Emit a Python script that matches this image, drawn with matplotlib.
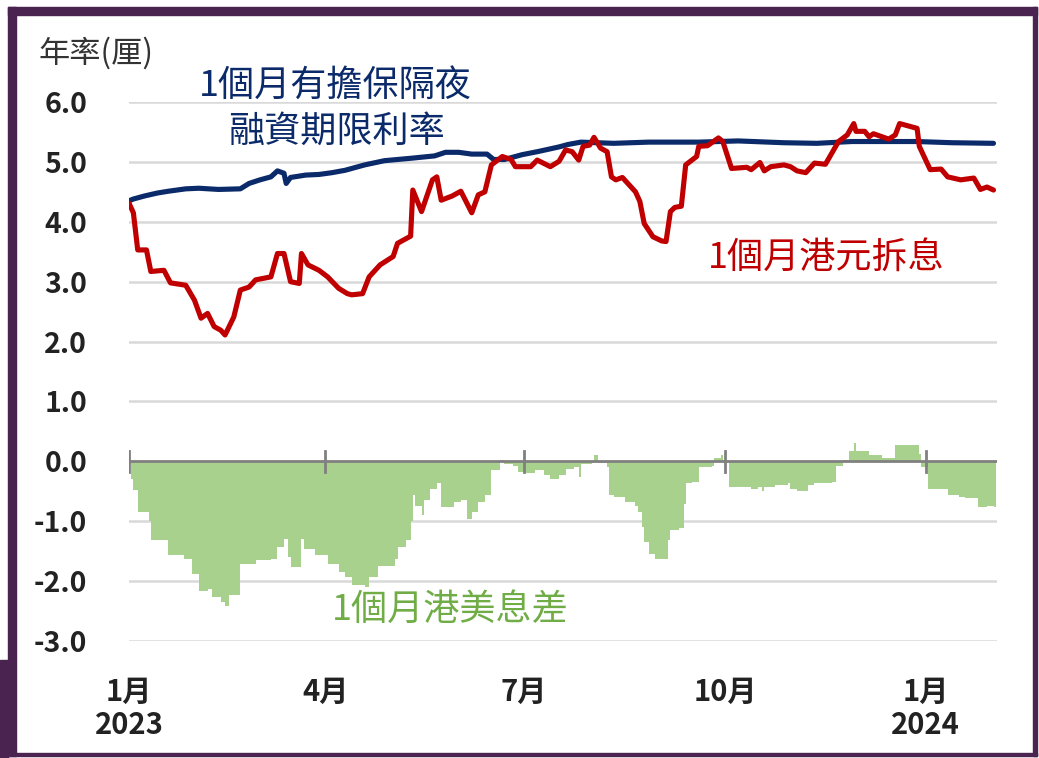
import matplotlib
matplotlib.use("Agg")
import matplotlib.pyplot as plt
from matplotlib.patches import Rectangle
import numpy as np
import pandas as pd

plt.rcParams['font.family'] = ['Noto Sans CJK TC', 'DejaVu Sans']

# 資料 (日數 = 自 2023-01-01 起)
hibor_days = [0, 2, 4, 8, 10, 16, 19, 26, 30, 33, 36, 39, 42, 44, 48, 51, 55, 58, 65, 68,
              71, 74, 78, 79, 82, 87, 91, 96, 100, 102, 107, 110, 115, 121, 123, 129, 130,
              134, 139, 141, 143, 148, 152, 157, 160, 163, 166, 171, 175, 177, 184, 187,
              193, 197, 200, 203, 206, 208, 211, 213, 216, 219, 221, 223, 226, 229, 232,
              234, 236, 240, 244, 246, 248, 250, 253, 255, 260, 261, 265, 270, 272, 276,
              283, 285, 289, 291, 294, 300, 303, 306, 310, 314, 319, 325, 329, 332, 333,
              337, 339, 341, 348, 351, 353, 361, 362, 367, 372, 375, 381, 387, 390, 393, 396]
hibor = [4.31, 4.15, 3.53, 3.53, 3.17, 3.19, 2.98, 2.94, 2.69, 2.39, 2.47, 2.25, 2.19, 2.11,
         2.41, 2.86, 2.91, 3.03, 3.08, 3.47, 3.47, 3.00, 2.97, 3.47, 3.28, 3.19, 3.08, 2.89,
         2.80, 2.78, 2.80, 3.08, 3.28, 3.42, 3.64, 3.76, 4.53, 4.17, 4.70, 4.75, 4.36, 4.43,
         4.51, 4.15, 4.45, 4.50, 4.95, 5.09, 5.04, 4.92, 4.92, 5.03, 4.92, 5.01, 5.20, 5.17,
         5.03, 5.26, 5.28, 5.41, 5.23, 5.17, 4.75, 4.70, 4.74, 4.62, 4.50, 4.34, 3.97, 3.75,
         3.68, 3.67, 4.17, 4.24, 4.26, 4.95, 5.09, 5.26, 5.27, 5.40, 5.34, 4.89, 4.91, 4.87,
         4.99, 4.85, 4.92, 4.95, 4.92, 4.85, 4.82, 4.98, 4.96, 5.34, 5.45, 5.64, 5.51, 5.51,
         5.42, 5.47, 5.38, 5.45, 5.64, 5.56, 5.26, 4.87, 4.88, 4.75, 4.70, 4.73, 4.54, 4.58,
         4.53]

sofr_days = [0, 2, 7, 13, 18, 26, 32, 41, 51, 55, 60, 65, 68, 71, 72, 74, 81, 87, 93, 99,
             108, 117, 129, 140, 145, 151, 157, 164, 167, 172, 180, 187, 197, 201, 207, 222,
             238, 261, 279, 300, 315, 331, 346, 361, 377, 396]
sofr = [4.35, 4.38, 4.43, 4.48, 4.51, 4.55, 4.56, 4.54, 4.55, 4.64, 4.70, 4.75, 4.85, 4.81,
        4.64, 4.74, 4.78, 4.79, 4.82, 4.86, 4.95, 5.02, 5.06, 5.10, 5.16, 5.16, 5.13, 5.13,
        5.04, 5.04, 5.12, 5.17, 5.25, 5.29, 5.33, 5.31, 5.33, 5.33, 5.35, 5.32, 5.31, 5.34,
        5.34, 5.34, 5.32, 5.31]

spread_days = [0, 1, 2, 4, 9, 10, 17, 18, 25, 29, 32, 36, 38, 42, 44, 46, 51, 58, 65, 68,
               71, 73, 74, 79, 80, 85, 91, 96, 99, 102, 108, 110, 114, 122, 123, 127, 129,
               130, 131, 134, 135, 138, 141, 143, 149, 152, 155, 157, 160, 163, 166, 170,
               172, 176, 178, 182, 186, 190, 193, 197, 200, 204, 206, 207, 212, 213, 215,
               219, 220, 222, 227, 232, 233, 235, 236, 238, 241, 246, 247, 248, 252, 254,
               255, 258, 261, 267, 268, 271, 272, 275, 283, 285, 288, 290, 291, 296, 302,
               303, 306, 310, 311, 314, 322, 324, 327, 330, 332, 333, 338, 339, 344, 345,
               350, 351, 360, 362, 363, 366, 372, 375, 380, 383, 387, 389, 393, 396, 397]
spread = [-0.04, -0.30, -0.48, -0.85, -0.99, -1.32, -1.32, -1.57, -1.63, -1.88, -2.16, -2.14,
          -2.27, -2.35, -2.41, -2.24, -1.71, -1.65, -1.63, -1.43, -1.29, -1.60, -1.77, -1.29,
          -1.46, -1.57, -1.71, -1.85, -1.93, -2.07, -2.10, -1.93, -1.74, -1.63, -1.43, -1.32,
          -0.99, -0.57, -0.74, -0.90, -0.65, -0.46, -0.36, -0.76, -0.68, -0.65, -0.96, -0.85,
          -0.68, -0.57, -0.15, 0.03, -0.05, -0.07, -0.18, -0.20, -0.15, -0.23, -0.29, -0.23,
          -0.12, -0.10, -0.26, -0.05, -0.03, 0.10, -0.03, -0.10, -0.57, -0.60, -0.68, -0.74,
          -0.85, -1.10, -1.35, -1.54, -1.63, -1.63, -1.32, -1.15, -1.12, -0.71, -0.37, -0.35,
          -0.10, -0.07, 0.05, 0.10, 0.03, -0.43, -0.43, -0.46, -0.43, -0.49, -0.43, -0.40,
          -0.37, -0.46, -0.49, -0.49, -0.40, -0.37, -0.34, -0.07, 0.03, 0.18, 0.30, 0.18,
          0.18, 0.10, 0.10, 0.06, 0.05, 0.27, 0.27, 0.13, -0.10, -0.46, -0.46, -0.57, -0.60,
          -0.62, -0.62, -0.76, -0.74, -0.76, -0.76]

tick_dates = ["2023-01-01", "2023-04-01", "2023-07-01", "2023-10-01", "2024-01-01"]
tick_labels = ["1月\n2023", "4月", "7月", "10月", "1月\n2024"]
y_ticks = [6, 5, 4, 3, 2, 1, 0, -1, -2, -3]

start = pd.Timestamp("2023-01-01")
to_date = lambda d: start + pd.to_timedelta(d, unit="D")

navy = "#0b2a6a"
red = "#c00000"
green_fill = "#a9d18e"
green_txt = "#70ad47"
frame = "#4b2350"

W, H = 1039, 758
fig = plt.figure(figsize=(W / 100, H / 100), dpi=100)
ax = fig.add_axes([129 / W, 1 - 641 / H, (997 - 129) / W, (641 - 102) / H])

# 息差 (面積)
ax.fill_between(to_date(spread_days), spread, 0, step="post", color=green_fill,
                linewidth=0, zorder=2)
# 零線 + 月份刻度
ax.axhline(0, color="#808080", lw=2, zorder=3)
for d in tick_dates:
    ax.plot([pd.Timestamp(d)] * 2, [-0.17, 0.18], color="#808080", lw=2, zorder=3)

ax.plot(to_date(sofr_days), sofr, color=navy, lw=3.7, zorder=4, solid_joinstyle="round",
        solid_capstyle="round")
ax.plot(to_date(hibor_days), hibor, color=red, lw=3.7, zorder=5, solid_joinstyle="round",
        solid_capstyle="round")

ax.set_ylim(-3, 6)
ax.set_xlim(start, to_date(397.6))
ax.set_yticks(y_ticks)
ax.set_yticklabels([f"{v:.1f}" for v in y_ticks], fontsize=20.5, fontweight="bold",
                   color="#222222")
ax.tick_params(axis="y", length=0, pad=30)
ax.set_xticks([])
for sp in ax.spines.values():
    sp.set_visible(False)
for v in y_ticks:
    if v != 0:
        ax.axhline(v, color="#d9d9d9", lw=1.8, zorder=1)

for d, lab in zip(tick_dates, tick_labels):
    ax.text(pd.Timestamp(d), -3.6, lab, ha="center", va="top", fontsize=21,
            fontweight="bold", color="#222222", linespacing=1.12)

fig.text(38 / W, 1 - 53 / H, "年率(厘)", fontsize=22.5, color="#333333", va="center", ha="left")
fig.text(335 / W, 1 - 87 / H, "1個月有擔保隔夜", fontsize=26, color=navy, ha="center",
         va="center")
fig.text(336 / W, 1 - 132 / H, "融資期限利率", fontsize=26, color=navy, ha="center",
         va="center")
fig.text(826 / W, 1 - 258 / H, "1個月港元拆息", fontsize=26, color=red, ha="center",
         va="center")
fig.text(450 / W, 1 - 610 / H, "1個月港美息差", fontsize=26, color=green_txt, ha="center",
         va="center")

# 外框
def px_rect(x0, y0, x1, y1):
    fig.patches.append(Rectangle((x0 / W, 1 - y1 / H), (x1 - x0) / W, (y1 - y0) / H,
                                 transform=fig.transFigure, color=frame, zorder=10))

px_rect(8, 7, 1037, 15)
px_rect(8, 7, 16, 756)
px_rect(1033, 7, 1037, 756)
px_rect(8, 753, 1037, 756)
px_rect(0, 660, 8, 758)

fig.savefig("out.png", dpi=100)
